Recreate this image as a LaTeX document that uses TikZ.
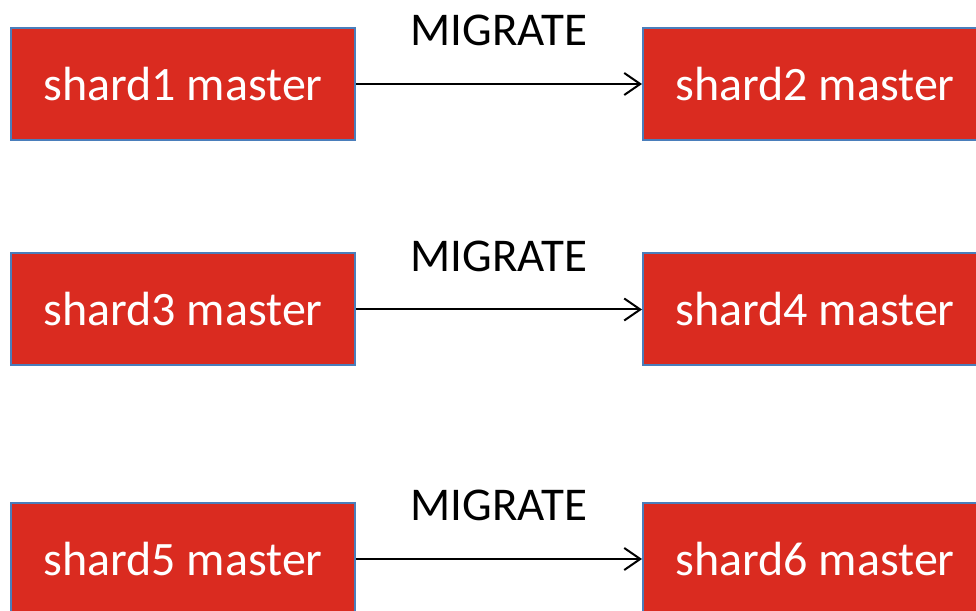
\documentclass[tikz,border=0pt]{standalone}
\usepackage{fontspec}
\setmainfont{Carlito}
\definecolor{boxred}{HTML}{DA2B20}
\definecolor{boxedge}{HTML}{4A7EBB}
\usepackage{tikz}
\usetikzlibrary{arrows.meta, positioning}

\begin{document}
\begin{tikzpicture}[
    x=1pt, y=1pt,
    shard/.style={draw=boxedge, line width=2pt, fill=boxred, text=white, minimum width=344pt, minimum height=112pt, inner sep=0pt, font=\fontsize{48}{58}\selectfont},
    arr/.style={-{Straight Barb[length=16pt,width=22pt]}, line width=2pt, color=black},
    lbl/.style={above=37pt, inner sep=0pt, font=\fontsize{47}{56}\selectfont},
  ]
  \useasboundingbox (0,0) rectangle (976,610);
  \clip (0,0) rectangle (976,610);
  \node[shard] (s1) at (183,526)   {shard1 master};
  \node[shard, right=286pt of s1] (s2) {shard2 master};
  \node[shard] (s3) at (183,300.5) {shard3 master};
  \node[shard, right=286pt of s3] (s4) {shard4 master};
  \node[shard] (s5) at (183,51)    {shard5 master};
  \node[shard, right=286pt of s5] (s6) {shard6 master};
  \draw[arr] (s1) -- node[lbl] (m1) {MIGRATE} (s2);
  \draw[arr] (s3) -- node[lbl] (m2) {MIGRATE} (s4);
  \draw[arr] (s5) -- node[lbl] (m3) {MIGRATE} (s6);
\end{tikzpicture}
\end{document}
